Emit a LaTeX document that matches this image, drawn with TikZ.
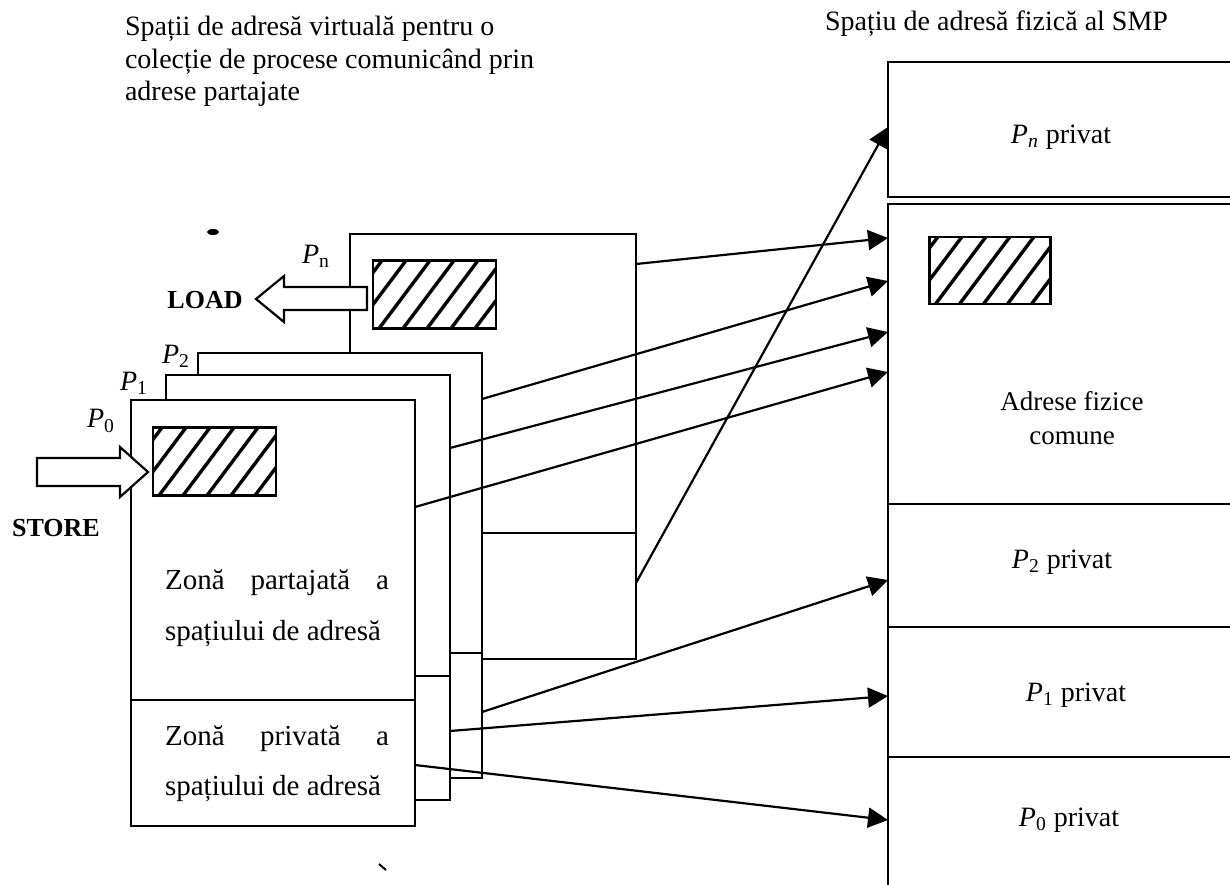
\documentclass[tikz,border=0pt]{standalone}
\usepackage{fontspec}
\setmainfont{Liberation Serif}
\usetikzlibrary{arrows.meta}
\newcommand{\Pit}[1]{\textit{P}\textsubscript{#1}}
\begin{document}
\begin{tikzpicture}[x=0.5pt,y=-0.5pt,
  pagebox/.style={draw,line width=1.1pt,fill=white},
  divline/.style={line width=1.1pt},
  colline/.style={line width=1.1pt},
  conn/.style={line width=1.1pt,-{Triangle[length=10pt,width=10pt]}},
  blockarrow/.style={draw,line width=1.1pt,fill=white,line join=miter},
  hatchbox/.style={draw,line width=1.1pt,fill=white,inner sep=0pt,
    minimum width=61.5pt,minimum height=34pt,
    path picture={\foreach \i in {-4,...,6}{\draw[line width=1.7pt]
      ([xshift=\i*12pt+3pt]path picture bounding box.south west) -- ++(27pt,36pt);}}},
  title/.style={font=\fontsize{14}{16}\selectfont},
  txt/.style={font=\fontsize{14.5}{17}\selectfont},
  plabel/.style={font=\fontsize{14}{16}\selectfont},
  bold/.style={font=\fontsize{13}{15}\selectfont\bfseries}
]
\useasboundingbox (0,0) rectangle (1230,884);

% titles
\node[title,anchor=base west] (t1) at (118,35) {Spații de adresă virtuală pentru o};
\node[title,anchor=base west] (t2) at (118,68) {colecție de procese comunicând prin};
\node[title,anchor=base west] (t3) at (118,100) {adrese partajate};
\node[title,anchor=base west] (t4) at (818,30) {Spațiu de adresă fizică al SMP};

% stacked pages (back to front)
\draw[pagebox] (350,234) rectangle (636,659);
\draw[divline] (350,533) -- (636,533);
\draw[pagebox] (198,353) rectangle (482,778);
\draw[divline] (198,653) -- (482,653);
\draw[pagebox] (166,375) rectangle (450,800);
\draw[divline] (166,676) -- (450,676);
\draw[pagebox] (131,400) rectangle (415,826);
\draw[divline] (131,700) -- (415,700);

% hatched regions
\node[hatchbox] (hn) at (434.5,294.5) {};
\node[hatchbox] (h0) at (214.5,461.5) {};

% page labels
\node[plabel] (lpn) at (316,256) {\Pit{n}};
\node[plabel] (lp2) at (176,356) {\Pit{2}};
\node[plabel] (lp1) at (134,383) {\Pit{1}};
\node[plabel] (lp0) at (101,421) {\Pit{0}};

% texts in P0
\node[txt,anchor=west] (z1) at (158,583) {\makebox[112pt][s]{Zonă partajată a}};
\node[txt,anchor=west] (z2) at (158,634) {spațiului de adresă};
\node[txt,anchor=west] (z3) at (158,739) {\makebox[112pt][s]{Zonă privată a}};
\node[txt,anchor=west] (z4) at (158,789) {spațiului de adresă};

% block arrows
\draw[blockarrow] (37,458) -- (120,458) -- (120,447) -- (148,472) -- (120,497) -- (120,486) -- (37,486) -- cycle;
\draw[blockarrow] (367,287) -- (284,287) -- (284,276) -- (256,299) -- (284,322) -- (284,310) -- (367,310) -- cycle;
\node[bold] (load) at (205,300) {LOAD};
\node[bold] (store) at (56,528) {STORE};

% physical address space column
\draw[colline] (1232,62) -- (888,62) -- (888,197) -- (1232,197);
\draw[colline] (1232,204) -- (888,204) -- (888,886);
\draw[colline] (888,504) -- (1232,504);
\draw[colline] (888,627) -- (1232,627);
\draw[colline] (888,757) -- (1232,757);
\node[hatchbox,minimum width=60.5pt,minimum height=33.5pt] (hc) at (990,270.5) {};
\node[plabel] (rpn) at (1061,137) {\textit{P}\textsubscript{\textit{n}} privat};
\node[txt,font=\fontsize{13.5}{16}\selectfont,align=center] (rc) at (1072,418) {Adrese fizice\\[1pt]comune};
\node[plabel] (rp2) at (1062,562) {\Pit{2} privat};
\node[plabel] (rp1) at (1076,695) {\Pit{1} privat};
\node[plabel] (rp0) at (1069,820) {\Pit{0} privat};

% connector end points
\coordinate (s1) at (636,264);
\coordinate (s2) at (482,399);
\coordinate (s3) at (450,448);
\coordinate (s4) at (415,507);
\coordinate (s5) at (636,583);
\coordinate (s6) at (482,712);
\coordinate (s7) at (450,731);
\coordinate (s8) at (415,765);
\coordinate (e1) at (888,238);
\coordinate (e2) at (888,281);
\coordinate (e3) at (888,332);
\coordinate (e4) at (888,372);
\coordinate (e5) at (888,127);
\coordinate (e6) at (888,580);
\coordinate (e7) at (888,696);
\coordinate (e8) at (888,820);

\foreach \k in {1,...,8}{\draw[conn] (s\k) -- (e\k);}

% scan marks
\fill (213,232) ellipse (6 and 3);
\draw[line width=1pt] (379,864) -- (386,870);
\end{tikzpicture}
\end{document}
